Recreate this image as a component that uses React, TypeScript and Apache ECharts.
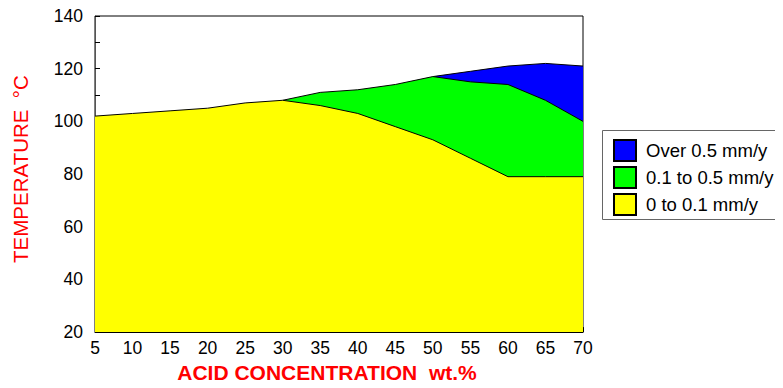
import React, { useEffect, useRef } from "react";
import * as echarts from "echarts";

const concentration = [5, 10, 15, 20, 25, 30, 35, 40, 45, 50, 55, 60, 65, 70];
const lowTop = [102, 103, 104, 105, 107, 108, 106, 103, 98, 93, 86, 79, 79, 79];
const midConc = [30, 35, 40, 45, 50, 55, 60, 65, 70];
const midTop = [108, 111, 112, 114, 117, 115, 114, 108, 100];
const highConc = [50, 55, 60, 65, 70];
const highTop = [117, 119, 121, 122, 121];
const seriesNames = ["Over 0.5 mm/y", "0.1 to 0.5 mm/y", "0 to 0.1 mm/y"];
const seriesColors = ["#0000ff", "#00ff00", "#ffff00"];

const FONT = "'Liberation Sans', Arial, sans-serif";

export default function App() {
  const ref = useRef<HTMLDivElement>(null);
  useEffect(() => {
    const chart = echarts.init(ref.current!, null, { renderer: "svg" });
    const pairs = (xs: number[], ys: number[]) => xs.map((x, i) => [x, ys[i]]);
    const datasets = [pairs(highConc, highTop), pairs(midConc, midTop), pairs(concentration, lowTop)];
    chart.setOption({
      animation: false,
      textStyle: { fontFamily: FONT },
      grid: {
        left: 95,
        right: 200,
        top: 16,
        bottom: 55,
        show: true,
        borderColor: "#000",
        borderWidth: 1,
      },
      graphic: [
        {
          type: "rect",
          shape: { x: 602.5, y: 130.5, width: 179, height: 89 },
          style: { fill: "none", stroke: "#666", lineWidth: 1 },
          silent: true,
        },
      ],
      legend: {
        orient: "vertical",
        left: 602,
        top: 130,
        data: seriesNames,
        itemWidth: 22,
        itemHeight: 21,
        itemGap: 4,
        padding: [9, 9, 8, 11],
        borderWidth: 0,
        icon: "rect",
        textStyle: { fontSize: 18.5, color: "#000", fontFamily: FONT, padding: [0, 0, 0, 5] },
      },
      xAxis: {
        type: "value",
        min: 5,
        max: 70,
        interval: 5,
        name: "ACID CONCENTRATION  wt.%",
        nameLocation: "middle",
        nameGap: 29,
        nameTextStyle: {
          color: "#ff0000",
          fontSize: 21,
          fontWeight: "bold",
          fontFamily: FONT,
          padding: [0, 24, 0, 0],
        },
        axisLine: { lineStyle: { color: "#000", width: 1 } },
        axisTick: { inside: true, length: 5, lineStyle: { color: "#000" } },
        axisLabel: { color: "#000", fontSize: 17.5, margin: 7, fontFamily: FONT },
        splitLine: { show: false },
      },
      yAxis: {
        type: "value",
        min: 20,
        max: 140,
        interval: 10,
        name: "TEMPERATURE  °C",
        nameLocation: "middle",
        nameGap: 64,
        nameTextStyle: {
          color: "#ff0000",
          fontSize: 20.5,
          fontFamily: FONT,
          padding: [0, 0, 0, 10],
        },
        axisLine: { show: true, lineStyle: { color: "#555", width: 1 } },
        axisTick: { inside: true, length: 5, lineStyle: { color: "#000" } },
        axisLabel: {
          color: "#000",
          fontSize: 17.5,
          margin: 12,
          fontFamily: FONT,
          formatter: (v: number) => (v % 20 === 0 ? String(v) : ""),
        },
        splitLine: { show: false },
      },
      series: seriesNames.map((name, i) => ({
        name,
        type: "line",
        data: datasets[i],
        symbol: "none",
        z: 2 + i,
        itemStyle: { color: seriesColors[i], borderColor: "#000", borderWidth: 1 },
        lineStyle: { color: "#000", width: 1 },
        areaStyle: { color: seriesColors[i], opacity: 1, origin: "start" },
      })),
    });
    return () => chart.dispose();
  }, []);
  return <div ref={ref} style={{ width: 783, height: 388, margin: -8 }} />;
}
